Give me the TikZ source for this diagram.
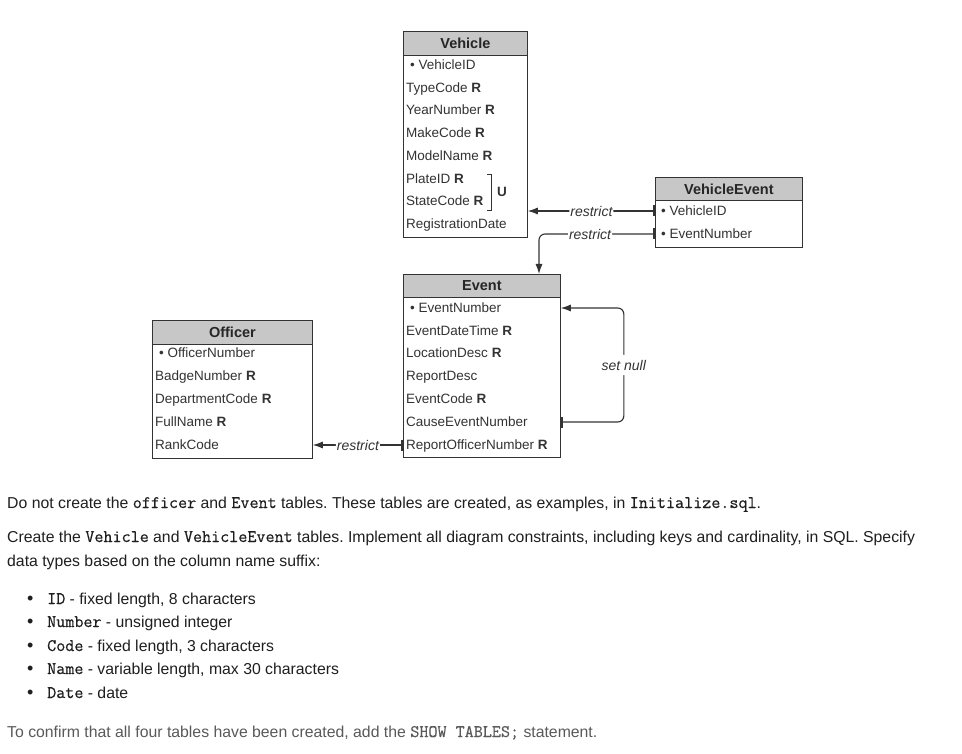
\documentclass[tikz,border=0pt]{standalone}
\usepackage{fontspec}
\setmainfont{Liberation Sans}
\setmonofont{Latin Modern Mono}[FakeBold=0.5]
\usetikzlibrary{arrows.meta}
\newcommand{\sqlname}[1]{{\fontsize{17.6}{18}\selectfont\ttfamily #1}}

\begin{document}
\frenchspacing
\begin{tikzpicture}[x=1pt,y=-1pt,
    line/.style={draw=black!80,line width=0.8pt},
    head/.style={line,fill=black!22,anchor=north west,inner sep=0pt,text=black!85,font=\fontsize{14.5}{16}\selectfont\bfseries},
    body/.style={line,anchor=north west,inner sep=0pt},
    field/.style={anchor=west,inner sep=0pt,text height=9.5pt,text depth=0pt,text=black!80,font=\fontsize{13.5}{16}\selectfont},
    fk/.style={draw=black!80,line width=1.1pt,rounded corners=6pt,{Bar[width=11pt,line width=1.8pt]}-{Latex[length=10pt,width=7pt]}},
    rule/.style={fill=white,inner xsep=1pt,inner ysep=5pt,text=black!80,font=\fontsize{14}{16}\selectfont\itshape},
    para/.style={anchor=base west,inner sep=0pt,text=black!88,font=\fontsize{15.8}{18}\selectfont}]
    \useasboundingbox[fill=white] (0,0) rectangle (962,754);

    \node[head,minimum width=124,minimum height=24] (vehicle) at (403,31) {Vehicle};
     \node[body,minimum width=124,minimum height=182] (vbody) at (403,55) {};
      \node[field] (vid) at (410,65) {• VehicleID};
      \node[field] (vtype) at (406,88) {TypeCode \textbf{R}};
      \node[field] (vyear) at (406,110) {YearNumber \textbf{R}};
      \node[field] (vmake) at (406,133) {MakeCode \textbf{R}};
      \node[field] (vmodel) at (406,156) {ModelName \textbf{R}};
      \node[field] (vplate) at (406,179) {PlateID \textbf{R}};
      \node[field] (vstate) at (406,201) {StateCode \textbf{R}};
      \node[field] (vreg) at (406,224) {RegistrationDate};
    \draw[line] (487,174) -| (491,210) -- (487,210);
      \node[field,font=\fontsize{13.5}{16}\selectfont\bfseries] (vunique) at (497,192) {U};

    \node[head,minimum width=147,minimum height=23] (vehicleevent) at (655,177) {VehicleEvent};
     \node[body,minimum width=147,minimum height=47] (vebody) at (655,200) {};
      \node[field] (vevid) at (661,211) {• VehicleID};
      \node[field] (veenum) at (661,234) {• EventNumber};

    \node[head,minimum width=157,minimum height=23] (event) at (403,274) {Event};
     \node[body,minimum width=157,minimum height=160] (ebody) at (403,297) {};
      \node[field] (eenum) at (410,308) {• EventNumber};
      \node[field] (edate) at (406,331) {EventDateTime \textbf{R}};
      \node[field] (eloc) at (406,353) {LocationDesc \textbf{R}};
      \node[field] (erep) at (406,376) {ReportDesc};
      \node[field] (ecode) at (406,399) {EventCode \textbf{R}};
      \node[field] (ecause) at (406,422) {CauseEventNumber};
      \node[field] (eofficer) at (406,445) {ReportOfficerNumber \textbf{R}};

    \node[head,minimum width=160,minimum height=24] (officer) at (152,320) {Officer};
     \node[body,minimum width=160,minimum height=114] (obody) at (152,344) {};
      \node[field] (onum) at (159,353) {• OfficerNumber};
      \node[field] (obadge) at (155,376) {BadgeNumber \textbf{R}};
      \node[field] (odept) at (155,399) {DepartmentCode \textbf{R}};
      \node[field] (oname) at (155,422) {FullName \textbf{R}};
      \node[field] (orank) at (155,445) {RankCode};

    \draw[fk] (vebody.west |- vevid) -- node[rule] {restrict} (vbody.east |- vevid);
    \draw[fk] (vebody.west |- veenum) -| node[rule,pos=0.28] {restrict} ([xshift=136pt]event.north west);
    \draw[fk] (ebody.east |- ecause) -- ++(63,0) |- node[rule,pos=0.25] {set null} (ebody.east |- eenum);
    \draw[fk] (ebody.west |- eofficer) -- node[rule] {restrict} (obody.east |- eofficer);

    \node[para] (p1) at (7,508) {Do not create the \sqlname{officer} and \sqlname{Event} tables. These tables are created, as examples, in \sqlname{Initialize.sql}.};
    \node[para] (p2) at (7,542) {Create the \sqlname{Vehicle} and \sqlname{VehicleEvent} tables. Implement all diagram constraints, including keys and cardinality, in SQL. Specify};
    \node[para] (p3) at (7,566) {data types based on the column name suffix:};
    \node[para] (b1) at (47,604) {\sqlname{ID} - fixed length, 8 characters};
    \node[para] (b2) at (47,627) {\sqlname{Number} - unsigned integer};
    \node[para] (b3) at (47,651) {\sqlname{Code} - fixed length, 3 characters};
    \node[para] (b4) at (47,674) {\sqlname{Name} - variable length, max 30 characters};
    \node[para] (b5) at (47,698) {\sqlname{Date} - date};
    \foreach \y in {604,627,651,674,698}
      \node[para,font=\fontsize{18}{18}\selectfont] at (27,\y) {•};
    \node[para,text=black!65] (p4) at (7,737) {To confirm that all four tables have been created, add the \sqlname{SHOW TABLES;} statement.};
\end{tikzpicture}
\end{document}
